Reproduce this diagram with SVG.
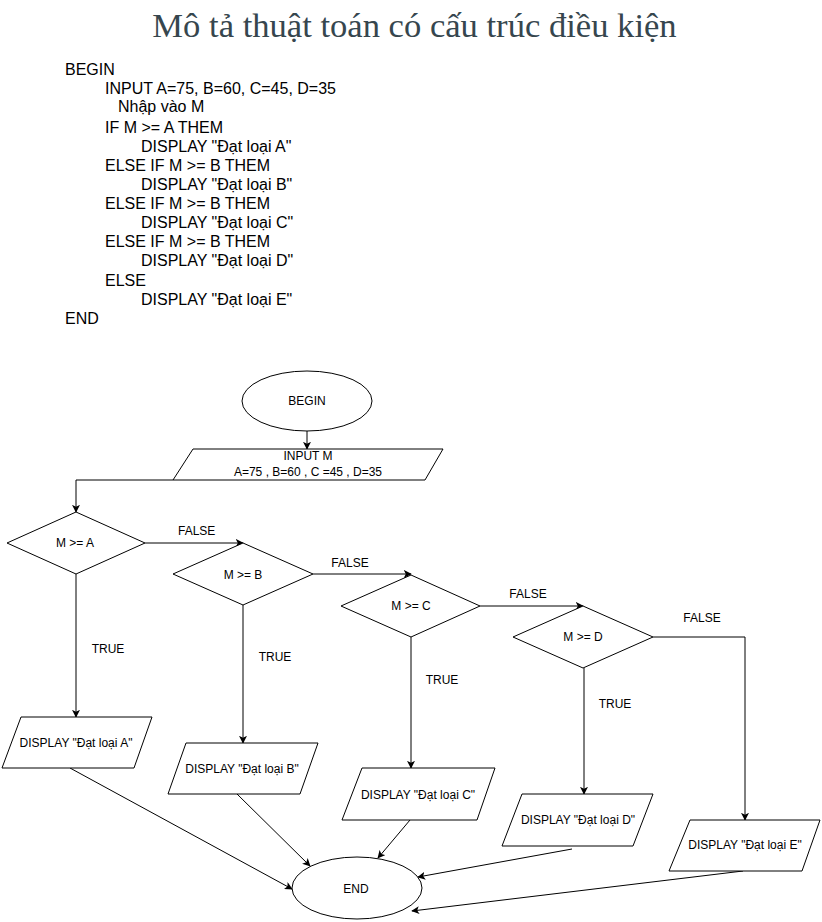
<svg xmlns="http://www.w3.org/2000/svg" width="822" height="922" viewBox="0 0 822 922">
<style>
.t{font-family:"Liberation Sans",Arial,sans-serif;font-size:12px;fill:#000}
.c{text-anchor:middle}
.code{font-family:"Liberation Sans",Arial,sans-serif;font-size:16px;fill:#000}
.s{fill:#fff;stroke:#000;stroke-width:1}
.e{fill:none;stroke:#000;stroke-width:1}
</style>
<defs>
<marker id="ah" viewBox="0 0 10 10" refX="9" refY="5" markerWidth="8" markerHeight="8" orient="auto" markerUnits="userSpaceOnUse">
<path d="M0,0 L10,5 L0,10 L2.5,5 Z" fill="#000"/>
</marker>
</defs>
<rect width="822" height="922" fill="#fff"/>
<text x="414.5" y="37" font-family="'Liberation Serif','Times New Roman',serif" font-size="34.6" fill="#36464e" text-anchor="middle">Mô tả thuật toán có cấu trúc điều kiện</text>
<g id="pseudocode">
<text class="code" x="65" y="75">BEGIN</text>
<text class="code" x="105" y="94">INPUT A=75, B=60, C=45, D=35</text>
<text class="code" x="118" y="112">Nhập vào M</text>
<text class="code" x="105" y="133">IF M &gt;= A THEM</text>
<text class="code" x="141" y="152">DISPLAY "Đạt loại A"</text>
<text class="code" x="105" y="171">ELSE IF M &gt;= B THEM</text>
<text class="code" x="141" y="190">DISPLAY "Đạt loại B"</text>
<text class="code" x="105" y="209">ELSE IF M &gt;= B THEM</text>
<text class="code" x="141" y="228">DISPLAY "Đạt loại C"</text>
<text class="code" x="105" y="247">ELSE IF M &gt;= B THEM</text>
<text class="code" x="141" y="266">DISPLAY "Đạt loại D"</text>
<text class="code" x="105" y="286">ELSE</text>
<text class="code" x="141" y="305">DISPLAY "Đạt loại E"</text>
<text class="code" x="65" y="324">END</text>
</g>
<g id="connectors">
<path class="e" d="M307,431 V449" marker-end="url(#ah)"/>
<path class="e" d="M173,480 H76 V512" marker-end="url(#ah)"/>
<path class="e" d="M145,543 H243" marker-end="url(#ah)"/>
<path class="e" d="M313,574 H411" marker-end="url(#ah)"/>
<path class="e" d="M480,606 H583" marker-end="url(#ah)"/>
<path class="e" d="M653,637 H745 V820" marker-end="url(#ah)"/>
<path class="e" d="M76,574 V717" marker-end="url(#ah)"/>
<path class="e" d="M243,605 V743" marker-end="url(#ah)"/>
<path class="e" d="M411,637 V768" marker-end="url(#ah)"/>
<path class="e" d="M584,668 V794" marker-end="url(#ah)"/>
<path class="e" d="M70,768 L292,889" marker-end="url(#ah)"/>
<path class="e" d="M237,794 L310,866" marker-end="url(#ah)"/>
<path class="e" d="M410,820 L378,858" marker-end="url(#ah)"/>
<path class="e" d="M572,849 L418,877" marker-end="url(#ah)"/>
<path class="e" d="M743,871 L412,911" marker-end="url(#ah)"/>
<text class="t" x="178" y="535">FALSE</text>
<text class="t" x="350" y="567" text-anchor="middle">FALSE</text>
<text class="t" x="528" y="598" text-anchor="middle">FALSE</text>
<text class="t" x="702" y="622" text-anchor="middle">FALSE</text>
<text class="t" x="108" y="653" text-anchor="middle">TRUE</text>
<text class="t" x="275" y="661" text-anchor="middle">TRUE</text>
<text class="t" x="442" y="684" text-anchor="middle">TRUE</text>
<text class="t" x="615" y="708" text-anchor="middle">TRUE</text>
</g>
<g id="begin">
<ellipse class="s" cx="307" cy="401" rx="65" ry="30"/>
<text class="t c" x="307" y="405">BEGIN</text>
</g>
<g id="input">
<polygon class="s" points="193,449 443,449 425,480 173,480"/>
<text class="t c" x="308" y="460">INPUT M</text>
<text class="t c" x="308" y="476">A=75 , B=60 , C =45 , D=35</text>
</g>
<g id="decA">
<polygon class="s" points="76,512 145,543 76,574 7,543"/>
<text class="t c" x="75" y="547">M &gt;= A</text>
</g>
<g id="decB">
<polygon class="s" points="243,543 313,574 243,605 173,574"/>
<text class="t c" x="243" y="579">M &gt;= B</text>
</g>
<g id="decC">
<polygon class="s" points="411,575 480,606 411,637 341,606"/>
<text class="t c" x="411" y="610">M &gt;= C</text>
</g>
<g id="decD">
<polygon class="s" points="583,606 653,637 583,668 513,637"/>
<text class="t c" x="583" y="641">M &gt;= D</text>
</g>
<g id="dispA">
<polygon class="s" points="21,717 152,717 134,768 2,768"/>
<text class="t c" x="76" y="747">DISPLAY "Đạt loại A"</text>
</g>
<g id="dispB">
<polygon class="s" points="186,743 318,743 300,794 168,794"/>
<text class="t c" x="242" y="773">DISPLAY "Đạt loại B"</text>
</g>
<g id="dispC">
<polygon class="s" points="362,768 495,768 477,820 342,820"/>
<text class="t c" x="418" y="799">DISPLAY "Đạt loại C"</text>
</g>
<g id="dispD">
<polygon class="s" points="522,794 653,794 633,846 502,846"/>
<text class="t c" x="578" y="824">DISPLAY "Đạt loại D"</text>
</g>
<g id="dispE">
<polygon class="s" points="690,820 820,820 802,871 669,871"/>
<text class="t c" x="745" y="849">DISPLAY "Đạt loại E"</text>
</g>
<g id="end">
<ellipse class="s" cx="357" cy="888" rx="65" ry="31"/>
<text class="t c" x="356" y="893">END</text>
</g>
</svg>
